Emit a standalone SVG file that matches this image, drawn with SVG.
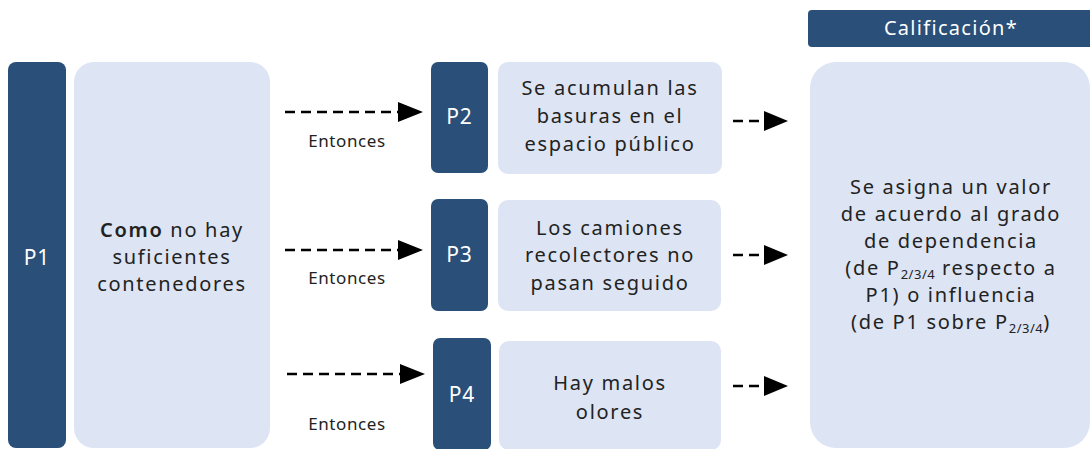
<svg xmlns="http://www.w3.org/2000/svg" width="1090" height="449" viewBox="0 0 1090 449">
<style>
.dark{fill:#2a4f78}
.light{fill:#dde4f3}
.lbl{font-family:"Noto Sans","Open Sans",sans-serif;font-size:21px;fill:#ffffff;text-anchor:middle;letter-spacing:0.8px}
.hdr{font-family:"Noto Sans","Open Sans",sans-serif;font-size:20px;fill:#ffffff;text-anchor:middle;letter-spacing:1.3px}
.txt{font-family:"Noto Sans","Open Sans",sans-serif;font-size:20px;fill:#222222;text-anchor:middle;letter-spacing:1.7px}
.ent{font-family:"Noto Sans","Open Sans",sans-serif;font-size:17px;fill:#222222;text-anchor:middle;letter-spacing:0.6px}
.sub{font-size:13px;letter-spacing:0.5px}
.dash{stroke:#000;stroke-width:2.5;stroke-dasharray:10 6;fill:none}
</style>
<rect width="1090" height="449" fill="#ffffff"/>

<g id="P1">
<rect class="dark" x="8" y="62" width="58" height="386" rx="8"/>
<text class="lbl" x="37" y="265">P1</text>
<rect class="light" x="74" y="62" width="196" height="386" rx="20"/>
<text class="txt" x="172" y="237"><tspan font-weight="600">Como</tspan> no hay</text>
<text class="txt" x="172" y="264">suficientes</text>
<text class="txt" x="172" y="291">contenedores</text>
</g>

<g id="P2">
<rect class="dark" x="431" y="62" width="57" height="111" rx="7"/>
<text class="lbl" x="459.5" y="124">P2</text>
<rect class="light" x="498" y="62" width="224" height="112" rx="10"/>
<text class="txt" x="610" y="95">Se acumulan las</text>
<text class="txt" x="610" y="123">basuras en el</text>
<text class="txt" x="610" y="151">espacio público</text>
</g>

<g id="P3">
<rect class="dark" x="431" y="199" width="57" height="112" rx="7"/>
<text class="lbl" x="459.5" y="262">P3</text>
<rect class="light" x="498" y="200" width="223" height="111" rx="10"/>
<text class="txt" x="610" y="235">Los camiones</text>
<text class="txt" x="610" y="262">recolectores no</text>
<text class="txt" x="610" y="290">pasan seguido</text>
</g>

<g id="P4">
<rect class="dark" x="433" y="338" width="58" height="112" rx="7"/>
<text class="lbl" x="462" y="402">P4</text>
<rect class="light" x="499" y="341" width="222" height="109" rx="10"/>
<text class="txt" x="610" y="390">Hay malos</text>
<text class="txt" x="610" y="419">olores</text>
</g>

<g id="Calificacion">
<rect class="dark" x="808" y="10" width="290" height="37" rx="4"/>
<text class="hdr" x="951" y="35">Calificación*</text>
<rect class="light" x="810" y="62" width="280" height="386" rx="26"/>
<text class="txt" x="951" y="194">Se asigna un valor</text>
<text class="txt" x="951" y="221">de acuerdo al grado</text>
<text class="txt" x="951" y="248">de dependencia</text>
<text class="txt" x="951" y="275">(de P<tspan class="sub" dy="4">2/3/4</tspan><tspan dy="-4"> respecto a</tspan></text>
<text class="txt" x="951" y="302">P1) o influencia</text>
<text class="txt" x="951" y="329">(de P1 sobre P<tspan class="sub" dy="4">2/3/4</tspan><tspan dy="-4">)</tspan></text>
</g>

<g id="connectors">
<line class="dash" x1="285" y1="112" x2="400" y2="112"/>
<path d="M398,102 L423,112 L398,122 Z" fill="#000"/>
<text class="ent" x="347" y="147">Entonces</text>
<line class="dash" x1="285" y1="250" x2="400" y2="250"/>
<path d="M398,240 L423,250 L398,260 Z" fill="#000"/>
<text class="ent" x="347" y="284">Entonces</text>
<line class="dash" x1="287" y1="374" x2="402" y2="374"/>
<path d="M400,364 L425,374 L400,384 Z" fill="#000"/>
<text class="ent" x="347" y="430">Entonces</text>
<line class="dash" x1="733" y1="121" x2="766" y2="121"/>
<path d="M764,111 L788,121 L764,131 Z" fill="#000"/>
<line class="dash" x1="733" y1="255" x2="766" y2="255"/>
<path d="M764,245 L788,255 L764,265 Z" fill="#000"/>
<line class="dash" x1="733" y1="386" x2="766" y2="386"/>
<path d="M764,376 L788,386 L764,396 Z" fill="#000"/>
</g>
</svg>
